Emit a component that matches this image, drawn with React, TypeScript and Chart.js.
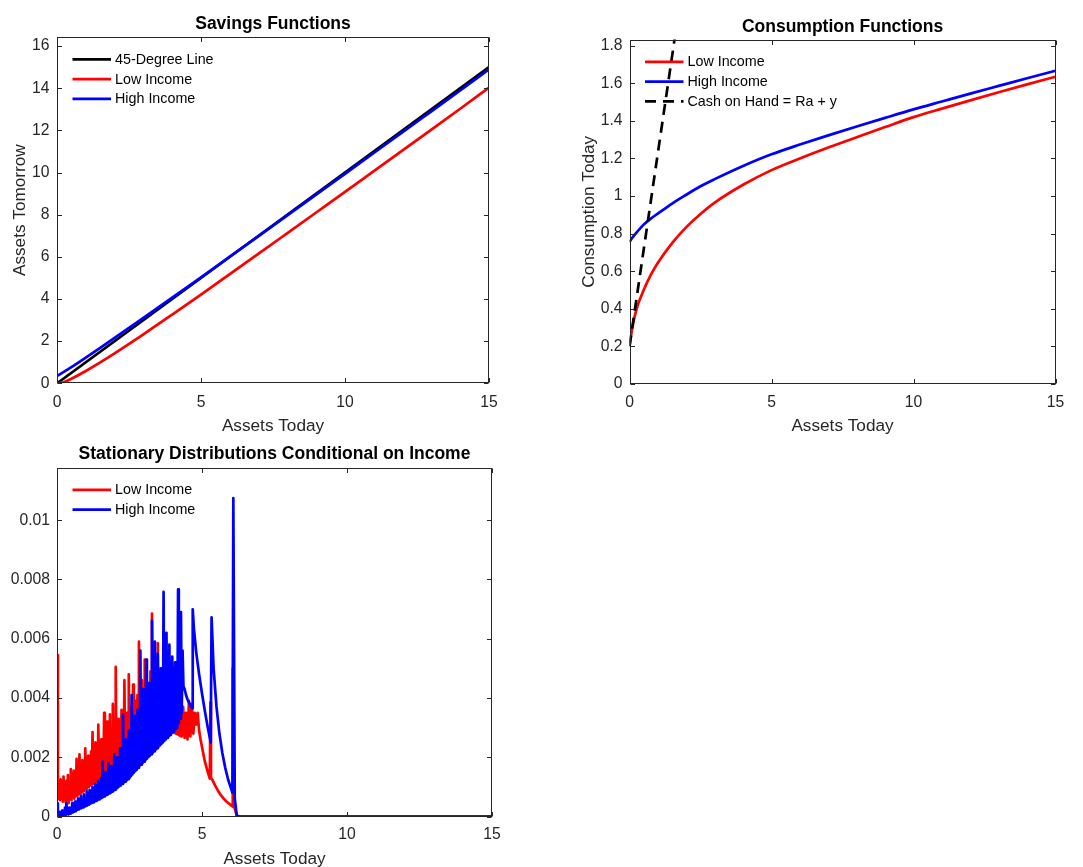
import React, { useEffect, useRef } from 'react';
import { Chart, registerables } from 'chart.js';

Chart.register(...registerables);

const FONT = "'Liberation Sans', Arial, Helvetica, sans-serif";
const TEXT = '#262626';
const RED = '#ff0000';
const BLUE = '#0000ff';
const BLACK = '#000000';
const LINE_W = 2.7;
const TICK_SIZE = 15.7;
const LABEL_SIZE = 17.2;
const TITLE_SIZE = 17.5;
const LEGEND_SIZE = 14.3;

// ---------- shared x axis ----------
const xTicks = [0, 5, 10, 15];
const xTickLabels = ['0', '5', '10', '15'];

// ---------- Panel 1: Savings Functions ----------
const degreeX = [0, 15];
const degreeY = [0, 15];
const savingsX = [0, 0.25, 0.5, 1, 1.5, 2, 3, 4, 5, 6, 7, 8, 9, 10, 11, 12, 13, 14, 15];
const savingsLow = [0, 0.058, 0.215, 0.585, 0.995, 1.425, 2.325, 3.26, 4.212, 5.18, 6.152, 7.127, 8.103, 9.08, 10.065, 11.051, 12.038, 13.026, 14.03];
const savingsHigh = [0.345, 0.552, 0.767, 1.223, 1.685, 2.153, 3.1, 4.06, 5.028, 6.006, 6.987, 7.97, 8.954, 9.939, 10.927, 11.915, 12.904, 13.893, 14.9];
const savingsYTicks = [0, 2, 4, 6, 8, 10, 12, 14, 16];
const savingsYTickLabels = ['0', '2', '4', '6', '8', '10', '12', '14', '16'];

// ---------- Panel 2: Consumption Functions ----------
const consX = [0, 0.1, 0.25, 0.5, 0.75, 1, 1.5, 2, 2.5, 3, 4, 5, 6, 7, 8, 9, 10, 11, 12, 13, 14, 15];
const consLow = [0.2, 0.3, 0.4, 0.5, 0.58, 0.645, 0.75, 0.835, 0.905, 0.965, 1.06, 1.138, 1.2, 1.258, 1.313, 1.367, 1.42, 1.465, 1.509, 1.552, 1.594, 1.635];
const consHigh = [0.755, 0.778, 0.806, 0.848, 0.88, 0.907, 0.96, 1.007, 1.052, 1.09, 1.16, 1.222, 1.274, 1.323, 1.37, 1.416, 1.461, 1.503, 1.545, 1.586, 1.627, 1.667];
const cashX = [0, 15];
const cashY = [0.2, 15.65];
const consYTicks = [0, 0.2, 0.4, 0.6, 0.8, 1, 1.2, 1.4, 1.6, 1.8];
const consYTickLabels = ['0', '0.2', '0.4', '0.6', '0.8', '1', '1.2', '1.4', '1.6', '1.8'];

// ---------- Panel 3: Stationary distributions (values in thousandths) ----------
const distGridX = [
  0.05, 0.075, 0.1, 0.125, 0.15, 0.175, 0.2, 0.225, 0.25, 0.275, 0.3, 0.325, 0.35, 0.375, 0.4, 0.425, 0.45, 0.475,
  0.5, 0.525, 0.55, 0.575, 0.6, 0.625, 0.65, 0.675, 0.7, 0.725, 0.75, 0.775, 0.8, 0.825, 0.85, 0.875, 0.9, 0.925, 0.95, 0.975,
  1, 1.025, 1.05, 1.075, 1.1, 1.125, 1.15, 1.175, 1.2, 1.225, 1.25, 1.275, 1.3, 1.325, 1.35, 1.375, 1.4, 1.425, 1.45, 1.475,
  1.5, 1.525, 1.55, 1.575, 1.6, 1.625, 1.65, 1.675, 1.7, 1.725, 1.75, 1.775, 1.8, 1.825, 1.85, 1.875, 1.9, 1.925, 1.95, 1.975,
  2, 2.025, 2.05, 2.075, 2.1, 2.125, 2.15, 2.175, 2.2, 2.225, 2.25, 2.275, 2.3, 2.325, 2.35, 2.375, 2.4, 2.425, 2.45, 2.475,
  2.5, 2.525, 2.55, 2.575, 2.6, 2.625, 2.65, 2.675, 2.7, 2.725, 2.75, 2.775, 2.8, 2.825, 2.85, 2.875, 2.9, 2.925, 2.95, 2.975,
  3, 3.025, 3.05, 3.075, 3.1, 3.125, 3.15, 3.175, 3.2, 3.225, 3.25, 3.275, 3.3, 3.325, 3.35, 3.375, 3.4, 3.425, 3.45, 3.475,
  3.5, 3.525, 3.55, 3.575, 3.6, 3.625, 3.65, 3.675, 3.7, 3.725, 3.75, 3.775, 3.8, 3.825, 3.85, 3.875, 3.9, 3.925, 3.95, 3.975,
  4, 4.025, 4.05, 4.075, 4.1, 4.125, 4.15, 4.175, 4.2, 4.225, 4.25, 4.275,
];
const distLowGrid = [
  0.6, 1.15, 0.55, 1.25, 0.62, 1.05, 0.5, 1.35, 0.58, 1.1, 0.48, 1.2, 0.55, 1.4, 0.45, 1.15, 0.6, 1.6,
  0.55, 1.3, 0.65, 1.55, 0.6, 1.35, 0.7, 1.95, 0.68, 1.5, 0.75, 2.1, 0.78, 1.6, 0.82, 1.9, 0.85, 1.7, 0.9, 2.3,
  0.92, 1.8, 0.98, 2.05, 1.0, 1.85, 1.05, 2.2, 1.08, 2.85, 1.1, 2.0, 1.15, 2.5, 1.18, 2.1, 1.2, 3.1, 1.25, 2.3,
  1.28, 2.6, 1.32, 2.4, 1.35, 3.5, 1.4, 2.5, 1.45, 3.2, 1.48, 2.6, 1.52, 3.45, 1.55, 2.7, 1.6, 3.8, 1.65, 2.8,
  1.7, 5.05, 1.72, 3.0, 1.78, 3.3, 1.82, 3.1, 1.88, 3.6, 1.92, 3.2, 1.98, 4.6, 2.02, 3.4, 2.08, 3.5, 2.12, 4.8,
  2.18, 3.6, 2.22, 3.7, 2.28, 4.45, 2.32, 3.8, 2.38, 3.9, 2.42, 4.1, 2.48, 5.9, 2.52, 4.2, 2.58, 4.6, 2.62, 4.3,
  2.68, 5.3, 2.72, 4.4, 2.76, 4.5, 2.8, 4.4, 2.84, 4.9, 2.88, 6.85, 2.9, 4.6, 2.92, 5.4, 2.95, 4.5, 2.98, 5.85,
  3.0, 4.6, 3.0, 4.4, 3.02, 5.0, 3.0, 4.3, 2.98, 4.6, 2.96, 4.2, 2.94, 4.1, 2.92, 4.3, 2.9, 4.0, 2.88, 4.5,
  2.85, 3.9, 2.82, 4.0, 2.8, 3.8, 2.78, 3.9, 2.75, 3.7, 2.72, 4.2,
];
const distHighGrid = [
  0.05, 0.15, 0.03, 0.12, 0.05, 0.2, 0.04, 0.15, 0.06, 0.3, 0.05, 0.45, 0.08, 0.2, 0.07, 0.3, 0.1, 0.25,
  0.12, 0.45, 0.14, 0.35, 0.16, 0.5, 0.18, 0.4, 0.22, 0.6, 0.24, 0.5, 0.27, 0.7, 0.29, 0.55, 0.31, 0.75, 0.33, 0.6,
  0.36, 0.85, 0.38, 0.7, 0.4, 0.9, 0.43, 0.8, 0.46, 1.0, 0.48, 0.85, 0.51, 1.1, 0.53, 0.95, 0.56, 1.2, 0.58, 1.05,
  0.61, 1.3, 0.63, 1.85, 0.66, 1.25, 0.68, 1.5, 0.72, 1.35, 0.74, 1.8, 0.78, 1.45, 0.8, 1.7, 0.84, 1.6, 0.87, 2.1,
  0.9, 1.75, 0.94, 2.0, 0.98, 1.9, 1.02, 2.3, 1.05, 2.1, 1.1, 3.45, 1.14, 2.4, 1.18, 2.6, 1.22, 2.5, 1.26, 2.9,
  1.3, 2.8, 1.36, 4.1, 1.42, 3.1, 1.48, 3.4, 1.53, 3.2, 1.58, 3.6, 1.64, 3.5, 1.7, 5.6, 1.75, 4.0, 1.8, 4.3,
  1.85, 4.0, 1.9, 5.3, 1.95, 4.2, 2.0, 4.5, 2.05, 4.3, 2.1, 6.6, 2.15, 4.6, 2.2, 5.9, 2.25, 4.7, 2.3, 5.5,
  2.35, 4.8, 2.4, 5.0, 2.45, 4.9, 2.5, 7.58, 2.55, 5.2, 2.6, 6.2, 2.65, 5.1, 2.7, 5.8, 2.75, 5.0, 2.8, 5.4,
  2.85, 5.0, 2.9, 5.2, 2.95, 5.1, 3.0, 7.67, 3.15, 5.6, 3.3, 6.9,
];
const distLowHeadX = [0, 0.03];
const distLowHead = [5.45, 0.65];
const distLowTailX = [4.3, 4.35, 4.4, 4.45, 4.5, 4.55, 4.6, 4.65, 4.7, 4.75, 4.8, 4.85, 4.9, 4.95, 5.0, 5.1, 5.2, 5.27, 5.29, 5.31, 5.35, 5.45, 5.55, 5.65, 5.75, 5.85, 5.95, 6.04, 6.06, 6.08, 6.12, 6.2, 6.3, 15];
const distLowTail = [2.7, 3.7, 2.65, 3.5, 2.6, 3.9, 2.7, 3.8, 2.8, 3.5, 3.1, 3.5, 2.9, 2.6, 2.35, 1.85, 1.5, 1.28, 3.85, 1.3, 1.25, 1.05, 0.87, 0.72, 0.6, 0.5, 0.42, 0.35, 5.0, 0.32, 0.3, 0.02, 0, 0];
const distHighHeadX = [0, 0.03];
const distHighHead = [0.44, 0.05];
const distHighTailX = [4.3, 4.33, 4.36, 4.4, 4.45, 4.5, 4.55, 4.6, 4.66, 4.68, 4.72, 4.8, 4.9, 5.0, 5.1, 5.2, 5.3, 5.33, 5.36, 5.4, 5.5, 5.6, 5.7, 5.8, 5.9, 6.0, 6.05, 6.08, 6.13, 6.2, 6.3, 15];
const distHighTail = [3.5, 5.6, 4.4, 4.3, 4.1, 3.95, 3.85, 3.75, 3.65, 6.99, 6.35, 5.55, 4.8, 4.15, 3.55, 3.0, 2.5, 6.72, 6.0, 5.0, 3.7, 2.8, 2.15, 1.65, 1.25, 0.95, 0.8, 10.75, 0.6, 0.03, 0, 0];
const distYTicks = [0, 0.002, 0.004, 0.006, 0.008, 0.01];
const distYTickLabels = ['0', '0.002', '0.004', '0.006', '0.008', '0.01'];

const distLowX = [...distLowHeadX, ...distGridX, ...distLowTailX];
const distLowPerMille = [...distLowHead, ...distLowGrid, ...distLowTail];
const distHighX = [...distHighHeadX, ...distGridX, ...distHighTailX];
const distHighPerMille = [...distHighHead, ...distHighGrid, ...distHighTail];

const toPoints = (xs: number[], ys: number[], scale = 1) => xs.map((x, i) => ({ x, y: ys[i] * scale }));

// ---------- plugins ----------
const boxPlugin = {
  id: 'matlabBox',
  afterDraw(chart: any) {
    const { ctx, chartArea: a, scales } = chart;
    ctx.save();
    ctx.strokeStyle = TEXT;
    ctx.lineWidth = 1;
    ctx.setLineDash([]);
    const l = Math.round(a.left) + 0.5;
    const r = Math.round(a.right) - 0.5;
    const t = Math.round(a.top) + 0.5;
    const b = Math.round(a.bottom) - 0.5;
    ctx.strokeRect(l, t, r - l, b - t);
    const tl = 4.5;
    ctx.beginPath();
    scales.x.ticks.forEach((tk: any) => {
      const px = Math.round(scales.x.getPixelForValue(tk.value)) + 0.5;
      ctx.moveTo(px, b);
      ctx.lineTo(px, b - tl);
      ctx.moveTo(px, t);
      ctx.lineTo(px, t + tl);
    });
    scales.y.ticks.forEach((tk: any) => {
      const py = Math.round(scales.y.getPixelForValue(tk.value)) + 0.5;
      ctx.moveTo(l, py);
      ctx.lineTo(l + tl, py);
      ctx.moveTo(r, py);
      ctx.lineTo(r - tl, py);
    });
    ctx.stroke();
    ctx.restore();
  },
};

const legendPlugin = {
  id: 'insideLegend',
  afterDraw(chart: any, _args: any, opts: any) {
    if (!opts || !opts.display) return;
    const { ctx, chartArea: a } = chart;
    ctx.save();
    ctx.font = `${LEGEND_SIZE}px ${FONT}`;
    ctx.textBaseline = 'middle';
    ctx.textAlign = 'left';
    chart.data.datasets.forEach((ds: any, i: number) => {
      const y = a.top + 22.3 + i * 19.8;
      const x0 = a.left + 15.5;
      ctx.beginPath();
      ctx.strokeStyle = ds.borderColor;
      ctx.lineWidth = ds.borderWidth;
      ctx.lineCap = 'butt';
      ctx.setLineDash(ds.borderDash || []);
      ctx.moveTo(x0, y);
      ctx.lineTo(x0 + 38.5, y);
      ctx.stroke();
      ctx.setLineDash([]);
      ctx.fillStyle = '#000';
      ctx.fillText(ds.label, x0 + 42.5, y + 0.5);
    });
    ctx.restore();
  },
};

type PanelSpec = {
  x: number; y: number; w: number; h: number;
  yWidth: number; xHeight: number; padRight: number;
  title: string; titleTop: number; titleBottom: number;
  yTitle: string | null; yTitleTop: number; xTitleBottom: number;
  xTickPad: number; yTickPad: number;
  yMax: number; yTicks: number[]; yTickLabels: string[];
  datasets: any[];
};

const line = (label: string, color: string, pts: any[], extra: any = {}) => ({
  label,
  data: pts,
  borderColor: color,
  backgroundColor: color,
  borderWidth: LINE_W,
  pointRadius: 0,
  fill: false,
  ...extra,
});

const panels: PanelSpec[] = [
  {
    x: 0, y: 0, w: 546, h: 440,
    yWidth: 57, xHeight: 56.7, padRight: 57,
    title: 'Savings Functions', titleTop: 13.3, titleBottom: 2.7,
    yTitle: 'Assets Tomorrow', yTitleTop: 10.2, xTitleBottom: 3.1,
    xTickPad: 9.9, yTickPad: 7.5,
    yMax: 16.43, yTicks: savingsYTicks, yTickLabels: savingsYTickLabels,
    datasets: [
      line('45-Degree Line', BLACK, toPoints(degreeX, degreeY), { order: 3 }),
      line('Low Income', RED, toPoints(savingsX, savingsLow), { order: 2, cubicInterpolationMode: 'monotone' }),
      line('High Income', BLUE, toPoints(savingsX, savingsHigh), { order: 1, cubicInterpolationMode: 'monotone' }),
    ],
  },
  {
    x: 560, y: 0, w: 523, h: 440,
    yWidth: 69.5, xHeight: 56, padRight: 27.5,
    title: 'Consumption Functions', titleTop: 16.8, titleBottom: 1.7,
    yTitle: 'Consumption Today', yTitleTop: 18.8, xTitleBottom: 3.1,
    xTickPad: 9, yTickPad: 7,
    yMax: 1.833, yTicks: consYTicks, yTickLabels: consYTickLabels,
    datasets: [
      line('Low Income', RED, toPoints(consX, consLow), { order: 3, cubicInterpolationMode: 'monotone' }),
      line('High Income', BLUE, toPoints(consX, consHigh), { order: 2, cubicInterpolationMode: 'monotone' }),
      line('Cash on Hand = Ra + y', BLACK, toPoints(cashX, cashY), { order: 1, borderDash: [11, 7] }),
    ],
  },
  {
    x: 0, y: 440, w: 549, h: 427,
    yWidth: 57, xHeight: 50.5, padRight: 57,
    title: 'Stationary Distributions Conditional on Income', titleTop: 3.6, titleBottom: 2.9,
    yTitle: null, yTitleTop: 0, xTitleBottom: -2.9,
    xTickPad: 9, yTickPad: 7,
    yMax: 0.01178, yTicks: distYTicks, yTickLabels: distYTickLabels,
    datasets: [
      line('Low Income', RED, toPoints(distLowX, distLowPerMille, 0.001), { order: 2 }),
      line('High Income', BLUE, toPoints(distHighX, distHighPerMille, 0.001), { order: 1 }),
    ],
  },
];

function buildConfig(p: PanelSpec): any {
  const tickFont = { family: FONT, size: TICK_SIZE };
  const labelFont = { family: FONT, size: LABEL_SIZE };
  return {
    type: 'line',
    data: { datasets: p.datasets },
    plugins: [boxPlugin, legendPlugin],
    options: {
      responsive: false,
      maintainAspectRatio: false,
      animation: false,
      events: [],
      layout: { padding: { left: 0, top: 0, right: p.padRight, bottom: 0 } },
      elements: { point: { radius: 0 }, line: { borderJoinStyle: 'round', borderCapStyle: 'butt', tension: 0 } },
      plugins: {
        legend: { display: false },
        tooltip: { enabled: false },
        title: {
          display: true,
          text: p.title,
          fullSize: false,
          color: '#000',
          font: { family: FONT, size: TITLE_SIZE, weight: 'bold' },
          padding: { top: p.titleTop, bottom: p.titleBottom },
        },
        insideLegend: { display: true },
      },
      scales: {
        x: {
          type: 'linear',
          position: 'bottom',
          min: 0,
          max: 15,
          afterBuildTicks: (s: any) => { s.ticks = xTicks.map((v) => ({ value: v })); },
          afterFit: (s: any) => { s.height = p.xHeight; },
          ticks: {
            autoSkip: false,
            maxRotation: 0,
            color: TEXT,
            font: tickFont,
            padding: p.xTickPad,
            callback: (v: any) => xTickLabels[xTicks.indexOf(Number(v))],
          },
          grid: { display: false, drawTicks: false },
          border: { display: false },
          title: {
            display: true,
            text: 'Assets Today',
            color: TEXT,
            font: labelFont,
            padding: { top: 0, bottom: p.xTitleBottom },
          },
        },
        y: {
          type: 'linear',
          position: 'left',
          min: 0,
          max: p.yMax,
          afterBuildTicks: (s: any) => { s.ticks = p.yTicks.map((v) => ({ value: v })); },
          afterFit: (s: any) => { s.width = p.yWidth; },
          ticks: {
            autoSkip: false,
            color: TEXT,
            font: tickFont,
            padding: p.yTickPad,
            callback: (v: any) => {
              const idx = p.yTicks.findIndex((t) => Math.abs(t - Number(v)) < 1e-9);
              return idx >= 0 ? p.yTickLabels[idx] : '';
            },
          },
          grid: { display: false, drawTicks: false },
          border: { display: false },
          title: p.yTitle
            ? {
                display: true,
                text: p.yTitle,
                color: TEXT,
                font: labelFont,
                padding: { top: p.yTitleTop, bottom: 0 },
              }
            : { display: false },
        },
      },
    },
  };
}

function Panel({ spec }: { spec: PanelSpec }) {
  const ref = useRef<HTMLCanvasElement | null>(null);
  useEffect(() => {
    if (!ref.current) return;
    const chart = new Chart(ref.current, buildConfig(spec));
    return () => chart.destroy();
  }, [spec]);
  return (
    <canvas
      ref={ref}
      width={spec.w}
      height={spec.h}
      style={{ position: 'absolute', left: spec.x, top: spec.y, width: spec.w, height: spec.h, display: 'block' }}
    />
  );
}

export default function App() {
  return (
    <div style={{ position: 'absolute', left: 0, top: 0, width: 1083, height: 867, overflow: 'hidden', background: '#ffffff' }}>
      {panels.map((p, i) => (
        <Panel key={i} spec={p} />
      ))}
    </div>
  );
}
